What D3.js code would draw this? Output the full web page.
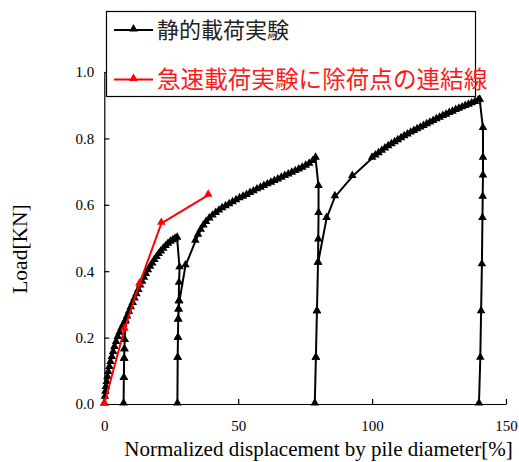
<!DOCTYPE html>
<html>
<head>
<meta charset="utf-8">
<script src="https://cdn.jsdelivr.net/npm/d3@7/dist/d3.min.js"></script>
<style>
  html, body { margin: 0; padding: 0; background: #fff; }
  svg { display: block; }
</style>
</head>
<body>
<svg id="chart" width="519" height="462"></svg>
<script>
// Static loading test: load–displacement path including unload/reload cycles
const staticDisp = [
  0.0, 0.2, 0.4, 0.6, 0.9, 1.2, 1.5, 1.9, 2.3, 2.8, 3.3, 3.8, 4.4, 5.0, 5.7, 6.4, 7.1, 7.8,
  7.6, 7.5, 7.4, 7.3, 7.2, 7.3, 7.4, 7.5, 7.6, 7.9,
  8.5, 9.2, 9.9, 10.6, 11.3, 12.0, 12.7, 13.4, 14.1, 14.8, 15.5, 16.3, 17.1, 17.9, 18.7,
  19.5, 20.3, 21.1, 22.0, 22.9, 23.8, 24.7, 25.6, 26.4, 27.2,
  28.1, 27.9, 27.8, 27.7, 27.6, 27.5, 27.4, 27.3, 27.4, 27.5, 27.6, 27.8, 28.0, 30.3, 34.0,
  35.0, 36.0, 37.0, 38.0, 39.2, 40.4, 41.6, 42.8, 44.0, 45.3, 46.6, 47.9, 49.2, 50.5, 51.8,
  53.1, 54.4, 55.7, 57.0, 58.3, 59.6, 60.9, 62.2, 63.5, 64.8, 66.1, 67.4, 68.7, 70.0, 71.3,
  72.6, 73.9, 75.2, 76.5, 77.8, 78.9,
  80.0, 80.0, 79.9, 79.8, 79.4, 79.0, 78.6, 79.0, 79.4, 79.8, 83.0, 86.1, 92.6, 100.0,
  101.2, 102.4, 103.6, 104.8, 106.0, 107.2, 108.4, 109.6, 110.8, 112.0, 113.2, 114.4, 115.6,
  116.8, 118.0, 119.2, 120.4, 121.6, 122.8, 124.0, 125.2, 126.4, 127.6, 128.8, 130.0, 131.2,
  132.4, 133.6, 134.8, 136.0, 137.2, 138.4, 139.6, 140.2,
  141.4, 141.4, 141.4, 141.3, 141.2, 141.0, 140.7, 140.4, 139.9
];
const staticLoad = [
  0.000, 0.020, 0.035, 0.050, 0.065, 0.080, 0.095, 0.110, 0.125, 0.140, 0.155, 0.170, 0.185, 0.200, 0.213, 0.226, 0.237, 0.246,
  0.191, 0.163, 0.135, 0.077, 0.000, 0.077, 0.135, 0.163, 0.191, 0.250,
  0.262, 0.276, 0.290, 0.303, 0.316, 0.329, 0.342, 0.355, 0.367, 0.379, 0.390, 0.401, 0.412, 0.422, 0.432,
  0.441, 0.450, 0.458, 0.466, 0.474, 0.481, 0.487, 0.492, 0.496, 0.499,
  0.410, 0.364, 0.308, 0.283, 0.253, 0.198, 0.138, 0.000, 0.138, 0.198, 0.253, 0.283, 0.308, 0.416, 0.490,
  0.508, 0.523, 0.536, 0.547, 0.557, 0.566, 0.574, 0.581, 0.588, 0.594, 0.600, 0.606, 0.612, 0.618, 0.623,
  0.628, 0.634, 0.639, 0.645, 0.650, 0.655, 0.660, 0.665, 0.670, 0.675, 0.680, 0.685, 0.690, 0.695, 0.700,
  0.705, 0.710, 0.716, 0.722, 0.730, 0.740,
  0.655, 0.574, 0.494, 0.424, 0.278, 0.138, 0.000, 0.138, 0.278, 0.424, 0.559, 0.624, 0.685, 0.740,
  0.747, 0.754, 0.761, 0.768, 0.775, 0.781, 0.787, 0.793, 0.799, 0.805, 0.810, 0.816, 0.821,
  0.826, 0.831, 0.836, 0.841, 0.846, 0.851, 0.856, 0.861, 0.866, 0.870, 0.875, 0.879, 0.884,
  0.888, 0.892, 0.896, 0.900, 0.904, 0.908, 0.913, 0.915,
  0.830, 0.740, 0.687, 0.623, 0.559, 0.419, 0.278, 0.138, 0.000
];

// Rapid loading test: line joining the unloading points
const rapidDisp = [0.0, 7.5, 13.1, 21.3, 38.8];
const rapidLoad = [0.000, 0.225, 0.361, 0.544, 0.629];

const xTicks = [0, 50, 100, 150];
const yTicks = [0.0, 0.2, 0.4, 0.6, 0.8, 1.0];

const seriesNames = ["静的載荷実験", "急速載荷実験に除荷点の連結線"];
const seriesColors = ["#000000", "#ff0000"];
const xTitle = "Normalized displacement by pile diameter[%]";
const yTitle = "Load[KN]";

const svg = d3.select("#chart");
const serif = "'Liberation Serif', 'Times New Roman', serif";
const cjk = "'Noto Sans CJK JP', 'Noto Sans CJK SC', sans-serif";

const x = d3.scaleLinear().domain([0, 150]).range([104.3, 506]);
const y = d3.scaleLinear().domain([0, 1.0]).range([404, 72]);

// axes with inward ticks
const xAxis = svg.append("g")
  .attr("transform", `translate(0,${y(0)})`)
  .call(d3.axisBottom(x).tickValues(xTicks).tickFormat(d3.format("d"))
    .tickSizeInner(-5).tickSizeOuter(0).tickPadding(16));
const yAxis = svg.append("g")
  .attr("transform", `translate(${x(0)},0)`)
  .call(d3.axisLeft(y).tickValues(yTicks).tickFormat(d3.format(".1f"))
    .tickSizeInner(-5).tickSizeOuter(0).tickPadding(10));

[xAxis, yAxis].forEach(g => {
  g.selectAll("path, line").attr("stroke", "#000").attr("stroke-width", 1.2);
  g.selectAll("text").attr("font-family", serif).attr("font-size", 15).attr("fill", "#000");
});

svg.append("text")
  .attr("x", 318.5)
  .attr("y", 456)
  .attr("text-anchor", "middle")
  .attr("font-family", serif).attr("font-size", 21)
  .text(xTitle);

svg.append("text")
  .attr("transform", `translate(27,249) rotate(-90)`)
  .attr("text-anchor", "middle")
  .attr("font-family", serif).attr("font-size", 21.5)
  .text(yTitle);

const tri = d3.symbol().type(d3.symbolTriangle).size(32);
const line = d3.line().x(d => x(d[0])).y(d => y(d[1]));

function drawSeries(xs, ys, color) {
  const pts = xs.map((v, i) => [v, ys[i]]);
  svg.append("path")
    .datum(pts)
    .attr("d", line)
    .attr("fill", "none")
    .attr("stroke", color)
    .attr("stroke-width", 2)
    .attr("stroke-linejoin", "round");
  svg.append("g").selectAll("path")
    .data(pts)
    .join("path")
    .attr("transform", d => `translate(${x(d[0])},${y(d[1]) - 1})`)
    .attr("d", tri)
    .attr("fill", color);
}

drawSeries(staticDisp, staticLoad, seriesColors[0]);
drawSeries(rapidDisp, rapidLoad, seriesColors[1]);

// legend
const legend = svg.append("g");
legend.append("rect")
  .attr("x", 106.5).attr("y", 11.5)
  .attr("width", 369).attr("height", 85)
  .attr("fill", "#fff").attr("stroke", "#000").attr("stroke-width", 1.2);

const legendRows = [
  { name: seriesNames[0], color: seriesColors[0], cy: 30, fs: 22, text: "#222" },
  { name: seriesNames[1], color: seriesColors[1], cy: 79.5, fs: 23.6, text: "#ff1a1a" }
];
legendRows.forEach(r => {
  legend.append("line")
    .attr("x1", 114).attr("x2", 153).attr("y1", r.cy).attr("y2", r.cy)
    .attr("stroke", r.color).attr("stroke-width", 2);
  legend.append("path")
    .attr("transform", `translate(133.5,${r.cy - 1})`)
    .attr("d", tri).attr("fill", r.color);
  legend.append("text")
    .attr("x", 157).attr("y", r.cy + r.fs * 0.36)
    .attr("font-family", cjk).attr("font-size", r.fs)
    .attr("fill", r.text)
    .text(r.name);
});
</script>
</body>
</html>
